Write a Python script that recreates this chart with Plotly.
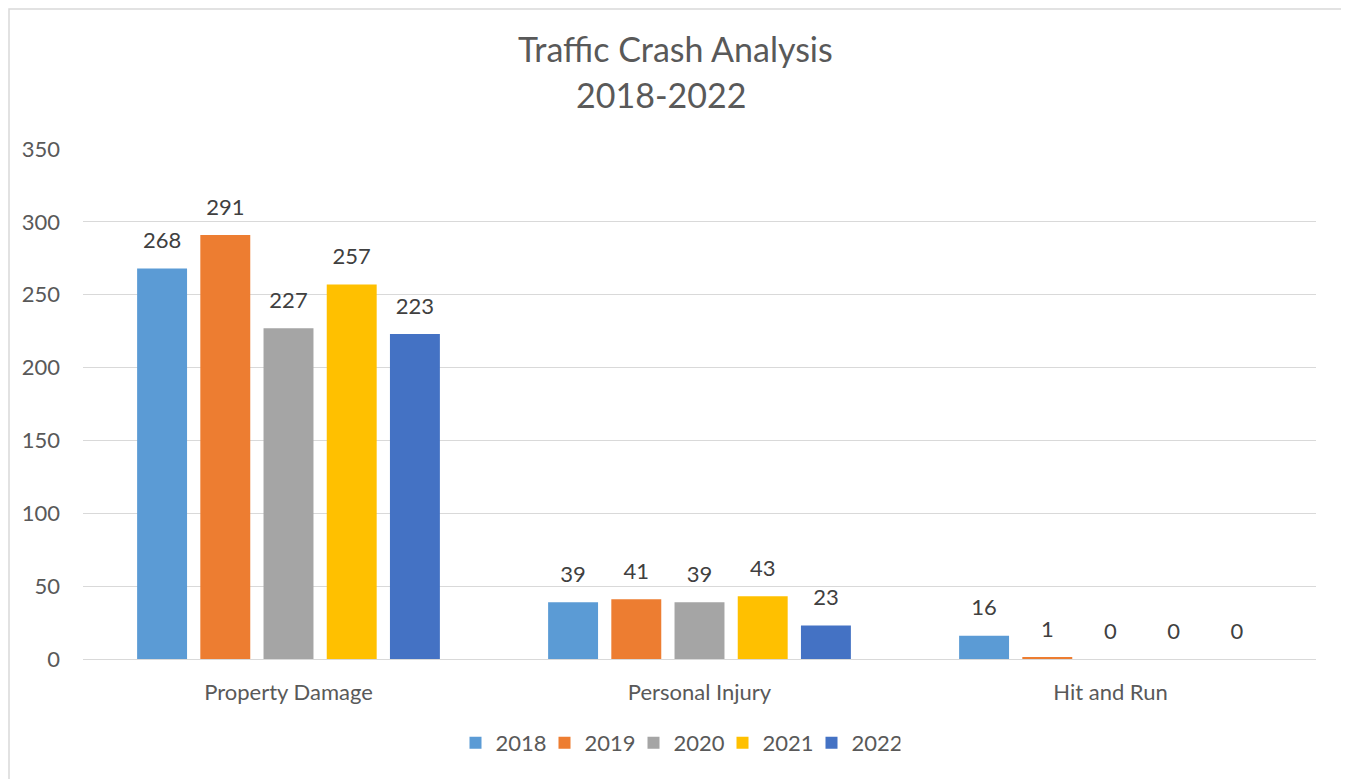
import plotly.graph_objects as go

categories = ["Property Damage", "Personal Injury", "Hit and Run"]
years = ["2018", "2019", "2020", "2021", "2022"]
values_2018 = [268, 39, 16]
values_2019 = [291, 41, 1]
values_2020 = [227, 39, 0]
values_2021 = [257, 43, 0]
values_2022 = [223, 23, 0]
series = [values_2018, values_2019, values_2020, values_2021, values_2022]
colors = ["#5B9BD5", "#ED7D31", "#A5A5A5", "#FFC000", "#4472C4"]

FONT = "Lato, Carlito, Calibri, sans-serif"
TXT = "#595959"
LBL = "#404040"
FS = 22
BARGAP = 0.231

fig = go.Figure()
for yr, vals, col in zip(years, series, colors):
    fig.add_trace(go.Bar(
        name=yr, x=categories, y=vals, marker_color=col, marker_line_width=0,
        offsetgroup=yr,
    ))
for yr, vals in zip(years, series):
    fig.add_trace(go.Scatter(
        x=categories, y=vals, mode="markers+text", text=[str(v) for v in vals],
        textposition="top center", offsetgroup=yr, showlegend=False, hoverinfo="skip",
        marker=dict(size=22, opacity=0), cliponaxis=False,
        textfont=dict(family=FONT, size=FS, color=LBL),
    ))

# page is shifted by 8px body margin; work in figure coordinates = reference - 8
OFF = 8
W, H = 1349 - OFF, 779 - OFF
L, T = 83 - OFF, 149 - OFF
PR, PB = 1316 - OFF, 659 - OFF
R, B = W - PR, H - PB
pw, ph = PR - L, PB - T

def px_x(x):
    return (x - OFF - L) / pw

def px_y(y):
    return (PB - (y - OFF)) / ph

def fx(x):
    return (x - L) / pw

def fy(y):
    return (PB - y) / ph

# chart border (as close to the figure edge as possible)
fig.add_shape(type="rect", xref="paper", yref="paper",
              x0=fx(1), y0=fy(H + 20), x1=fx(1344 - OFF), y1=fy(1),
              line=dict(color="#D9D9D9", width=1.5), layer="below")

fig.add_annotation(text="Traffic Crash Analysis", xref="paper", yref="paper", x=px_x(675), y=px_y(48),
                   showarrow=False, font=dict(family=FONT, size=34, color=TXT), xanchor="center", yanchor="middle")
fig.add_annotation(text="2018-2022", xref="paper", yref="paper", x=px_x(661), y=px_y(95),
                   showarrow=False, font=dict(family=FONT, size=34, color=TXT), xanchor="center", yanchor="middle")

fig.update_layout(
    width=W, height=H, autosize=False,
    margin=dict(l=L, r=R, t=T, b=B),
    paper_bgcolor="white", plot_bgcolor="white",
    barmode="group", bargap=BARGAP, bargroupgap=0.21,
    scattermode="group", scattergap=BARGAP,
    font=dict(family=FONT, size=FS, color=TXT),
    showlegend=True,
    legend=dict(orientation="h", x=px_x(678), y=px_y(743), xanchor="center", yanchor="middle",
                font=dict(family=FONT, size=FS, color=TXT), traceorder="normal",
                entrywidth=44, entrywidthmode="pixels"),
    xaxis=dict(showgrid=False, showline=False, ticks="", tickfont=dict(size=FS, color=TXT),
               ticklabelstandoff=18),
    yaxis=dict(range=[0, 350], dtick=50, showgrid=True, gridcolor="#D9D9D9", gridwidth=1,
               zeroline=True, zerolinecolor="#D9D9D9", zerolinewidth=1,
               showline=False, ticks="", tickfont=dict(size=FS, color=TXT), ticklabelstandoff=22),
)

fig.write_html("out.html")
